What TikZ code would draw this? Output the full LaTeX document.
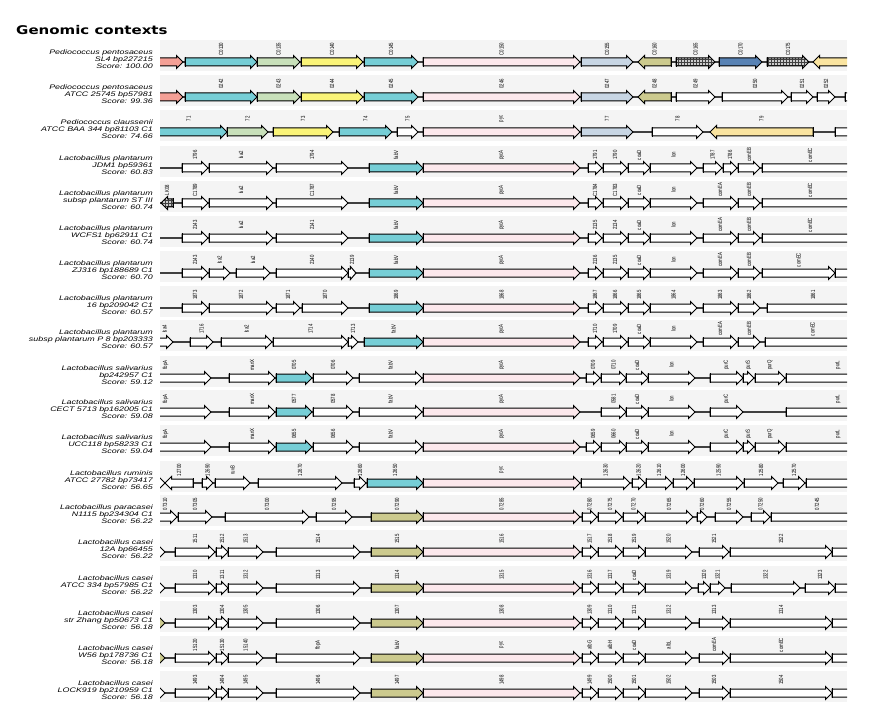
\documentclass[tikz,border=0pt]{standalone}
\usepackage{fontspec}
\usepackage{tikz}
\usetikzlibrary{patterns}

\newfontfamily\titlefont{DejaVu Sans}[FakeStretch=1.25]
\newfontfamily\spfont{Liberation Sans}[FakeStretch=1.35]
\newfontfamily\gfont{Liberation Sans}[FakeStretch=0.72]

\definecolor{genecyan}{RGB}{118,206,214}
\definecolor{genegreen}{RGB}{200,224,186}
\definecolor{geneyellow}{RGB}{250,244,120}
\definecolor{genepink}{RGB}{252,232,236}
\definecolor{genesteel}{RGB}{200,214,228}
\definecolor{genekhaki}{RGB}{204,202,142}
\definecolor{geneblue}{RGB}{88,130,180}
\definecolor{geneorange}{RGB}{250,228,160}
\definecolor{genesalmon}{RGB}{244,160,150}
\definecolor{bandgray}{RGB}{244,244,244}

\tikzset{
  gene/.style={draw=black, line width=1pt, line join=miter},
  gcyan/.style={fill=genecyan},
  ggreen/.style={fill=genegreen},
  gyellow/.style={fill=geneyellow},
  gpink/.style={fill=genepink},
  gsteel/.style={fill=genesteel},
  gkhaki/.style={fill=genekhaki},
  gblue/.style={fill=geneblue},
  gorange/.style={fill=geneorange},
  gsalmon/.style={fill=genesalmon},
  gwhite/.style={fill=white},
  ggrid/.style={preaction={fill=black!20}, pattern=grid, pattern color=black!75},
  band/.style={fill=bandgray, draw=none},
  backbone/.style={draw=black!75, line width=1.3pt},
  glabel/.style={rotate=90, inner sep=0pt, text=black,
    font=\gfont\fontsize{6}{6}\selectfont},
  species/.style={anchor=east, align=right, inner sep=0pt,
    font=\spfont\itshape\fontsize{6.6}{7}\selectfont}
}

% one genomic context: y, species, strain, score, genes (tail/head/style/label)
\newcommand{\ctxrow}[5]{%
  \fill[band] (160,#1-22) rectangle (847,#1+9);
  \node[species] (sp#1) at (153,#1-3) {#2\\#3\\Score: #4};
  \begin{scope}
    \clip (160,#1-22) rectangle (847,#1+10);
    \draw[backbone] (160,#1) -- (847,#1);
    \foreach \a/\b/\s/\t [count=\i] in {#5} {
      \pgfmathsetmacro\h{ifthenelse(\b>\a,1,-1)*min(6.5,0.7*abs(\b-\a))}
      \pgfmathsetmacro\c{\b-\h}
      \draw[gene,\s] (\a,#1-4) -- (\c,#1-4) -- (\c,#1-6.5) -- (\b,#1)
        -- (\c,#1+6.5) -- (\c,#1+4) -- (\a,#1+4) -- cycle;
      \draw[gene] (\a,#1-5) -- (\a,#1+5);
      \node[glabel] (g#1-\i) at ({(\a+\b)/2},#1-13) {\t};
    }
  \end{scope}
}

\begin{document}
\begin{tikzpicture}[x=1pt, y=-1pt]
  \useasboundingbox (0,0) rectangle (874,719);

  \node[anchor=west, inner sep=0pt, font=\titlefont\bfseries\fontsize{12}{12}\selectfont]
    (title) at (16,30) {Genomic contexts};

  \ctxrow{62}{Pediococcus pentosaceus}{SL4 bp227215}{100.00}{
    140/183/gsalmon/{}, 185/257/gcyan/C0130, 257/300/ggreen/C0135,
    301/363/gyellow/C0140, 364/418/gcyan/C0145, 423/580/gpink/C0150,
    581/633/gsteel/C0155, 671/638/gkhaki/C0160, 676/715/ggrid/C0165,
    719/762/gblue/C0170, 767/809/ggrid/C0175, 880/813/gorange/{}}

  \ctxrow{97}{Pediococcus pentosaceus}{ATCC 25745 bp57981}{99.36}{
    140/183/gsalmon/{}, 185/257/gcyan/0242, 257/300/ggreen/0243,
    301/363/gyellow/0244, 364/418/gcyan/0245, 423/580/gpink/0246,
    581/633/gsteel/0247, 671/638/gkhaki/0248, 676/715/gwhite/0249,
    722/788/gwhite/0250, 791/813/gwhite/0251, 817/835/gwhite/0252,
    845/890/gwhite/{}}

  \ctxrow{132}{Pediococcus claussenii}{ATCC BAA 344 bp81103 C1}{74.66}{
    150/227/gcyan/71, 227/268/ggreen/72, 273/333/gyellow/73,
    339/392/gcyan/74, 397/418/gwhite/75, 423/580/gpink/pyc,
    581/633/gsteel/77, 652/703/gwhite/78, 813/710/gorange/79,
    835/890/gwhite/{}}

  \ctxrow{168}{Lactobacillus plantarum}{JDM1 bp59361}{60.83}{
    182/208/gwhite/1796, 209/273/gwhite/lsa2, 276/348/gwhite/1794,
    369/423/gcyan/fabV, 423/580/gpink/pycA, 588/602/gwhite/1791,
    603/627/gwhite/1790, 628/650/gwhite/coaD, 650/697/gwhite/lon,
    703/722/gwhite/1787, 723/737/gwhite/1786, 738/760/gwhite/comEB,
    762/858/gwhite/comEC}

  \ctxrow{203}{Lactobacillus plantarum}{subsp plantarum ST III}{60.74}{
    173/161/ggrid/LK08, 182/208/gwhite/C1789, 209/273/gwhite/lsa2,
    276/348/gwhite/C1787, 369/423/gcyan/fabV, 423/580/gpink/pycA,
    588/602/gwhite/C1784, 603/627/gwhite/C1783, 628/650/gwhite/coaD,
    650/697/gwhite/lon, 703/737/gwhite/comEA, 738/760/gwhite/comEB,
    762/858/gwhite/comEC}

  \ctxrow{238}{Lactobacillus plantarum}{WCFS1 bp62911 C1}{60.74}{
    182/208/gwhite/2143, 209/273/gwhite/lsa2, 276/348/gwhite/2141,
    369/423/gcyan/fabV, 423/580/gpink/pycA, 588/602/gwhite/2135,
    603/627/gwhite/2134, 628/650/gwhite/coaD, 650/697/gwhite/lon,
    703/737/gwhite/comEA, 738/760/gwhite/comEB, 762/858/gwhite/comEC}

  \ctxrow{273}{Lactobacillus plantarum}{ZJ316 bp188689 C1}{60.70}{
    182/208/gwhite/2143, 209/230/gwhite/lsa2, 236/270/gwhite/lsa2,
    276/348/gwhite/2140, 348/356/gwhite/2139, 369/423/gcyan/fabV,
    423/580/gpink/pycA, 588/602/gwhite/2136, 603/627/gwhite/2135,
    628/650/gwhite/coaD, 650/697/gwhite/lon, 703/737/gwhite/comEA,
    738/760/gwhite/comEB, 762/835/gwhite/comEC, 835/890/gwhite/{}}

  \ctxrow{308}{Lactobacillus plantarum}{16 bp209042 C1}{60.57}{
    182/208/gwhite/1873, 209/273/gwhite/1872, 276/300/gwhite/1871,
    302/348/gwhite/1870, 369/423/gcyan/1869, 423/580/gpink/1868,
    588/602/gwhite/1867, 603/627/gwhite/1866, 628/650/gwhite/1865,
    650/697/gwhite/1864, 703/737/gwhite/1863, 738/760/gwhite/1862,
    767/859/gwhite/1861}

  \ctxrow{342}{Lactobacillus plantarum}{subsp plantarum P 8 bp203333}{60.57}{
    156/173/gwhite/lsa4, 190/213/gwhite/1716, 221/272/gwhite/lsa2,
    273/348/gwhite/1714, 348/358/gwhite/1713, 364/423/gcyan/fabV,
    423/580/gpink/pycA, 588/602/gwhite/1710, 603/627/gwhite/1709,
    628/650/gwhite/coaD, 650/697/gwhite/lon, 703/737/gwhite/comEA,
    738/760/gwhite/comEB, 765/860/gwhite/comEC}

  \ctxrow{378}{Lactobacillus salivarius}{bp242957 C1}{59.12}{
    120/211/gwhite/fbpA, 229/275/gwhite/manX, 276/312/gcyan/0705,
    313/353/gwhite/0706, 359/422/gwhite/fabV, 423/580/gpink/pycA,
    586/600/gwhite/0709, 601/626/gwhite/0710, 626/648/gwhite/coaD,
    648/695/gwhite/lon, 710/743/gwhite/purC, 743/754/gwhite/purS,
    755/785/gwhite/purQ, 786/890/gwhite/purL}

  \ctxrow{412}{Lactobacillus salivarius}{CECT 5713 bp162005 C1}{59.08}{
    120/211/gwhite/fbpA, 229/275/gwhite/manX, 276/312/gcyan/0577,
    313/353/gwhite/0578, 359/422/gwhite/fabV, 423/580/gpink/pycA,
    601/626/gwhite/0581, 626/648/gwhite/coaD, 648/695/gwhite/lon,
    710/743/gwhite/purC, 786/890/gwhite/purL}

  \ctxrow{447}{Lactobacillus salivarius}{UCC118 bp58233 C1}{59.04}{
    120/211/gwhite/fbpA, 229/275/gwhite/manX, 276/312/gcyan/0655,
    313/353/gwhite/0656, 359/422/gwhite/fabV, 423/580/gpink/pycA,
    586/600/gwhite/0659, 601/626/gwhite/0660, 626/648/gwhite/coaD,
    648/695/gwhite/lon, 710/743/gwhite/purC, 743/754/gwhite/purS,
    755/785/gwhite/purQ, 786/890/gwhite/purL}

  \ctxrow{483}{Lactobacillus ruminis}{ATCC 27782 bp73417}{56.65}{
    140/165/gwhite/{}, 193/165/gwhite/12700, 202/213/gwhite/12690,
    215/250/gwhite/ruvB, 258/342/gwhite/12670, 354/366/gwhite/12660,
    367/423/gcyan/12650, 423/580/gpink/pyc, 581/630/gwhite/12630,
    632/645/gwhite/12620, 646/672/gwhite/12610, 673/693/gwhite/12600,
    694/743/gwhite/12590, 744/778/gwhite/12580, 783/805/gwhite/12570,
    806/890/gwhite/{}}

  \ctxrow{517}{Lactobacillus paracasei}{N1115 bp234304 C1}{56.22}{
    153/177/gwhite/07310, 178/212/gwhite/07305, 225/309/gwhite/07300,
    316/352/gwhite/07295, 371/423/gkhaki/07290, 423/580/gpink/07285,
    582/597/gwhite/07280, 598/622/gwhite/07275, 623/644/gwhite/07270,
    645/693/gwhite/07265, 697/707/gwhite/07260, 715/743/gwhite/07255,
    751/770/gwhite/07250, 771/863/gwhite/07245}

  \ctxrow{552}{Lactobacillus casei}{12A bp66455}{56.22}{
    140/165/gwhite/{}, 175/215/gwhite/1511, 216/228/gwhite/1512,
    228/263/gwhite/1513, 276/360/gwhite/1514, 371/423/gkhaki/1515,
    423/580/gpink/1516, 582/597/gwhite/1517, 598/622/gwhite/1518,
    623/645/gwhite/1519, 645/692/gwhite/1520, 699/729/gwhite/1521,
    730/832/gwhite/1522, 832/890/gwhite/{}}

  \ctxrow{588}{Lactobacillus casei}{ATCC 334 bp57985 C1}{56.22}{
    140/165/gwhite/{}, 175/215/gwhite/1310, 216/228/gwhite/1311,
    228/263/gwhite/1312, 276/360/gwhite/1313, 371/423/gkhaki/1314,
    423/580/gpink/1315, 582/597/gwhite/1316, 598/622/gwhite/1317,
    623/645/gwhite/coaD, 645/692/gwhite/1319, 698/710/gwhite/1320,
    710/725/gwhite/1321, 731/800/gwhite/1322, 805/835/gwhite/1323,
    835/890/gwhite/{}}

  \ctxrow{623}{Lactobacillus casei}{str Zhang bp50673 C1}{56.18}{
    140/165/gkhaki/{}, 175/215/gwhite/1303, 216/228/gwhite/1304,
    228/263/gwhite/1305, 276/360/gwhite/1306, 371/423/gkhaki/1307,
    423/580/gpink/1308, 582/597/gwhite/1309, 598/622/gwhite/1310,
    623/645/gwhite/1311, 645/692/gwhite/1312, 699/729/gwhite/1313,
    730/832/gwhite/1314, 832/890/gwhite/{}}

  \ctxrow{658}{Lactobacillus casei}{W56 bp178736 C1}{56.18}{
    140/165/gkhaki/{}, 175/215/gwhite/15120, 216/228/gwhite/15130,
    228/263/gwhite/15140, 276/360/gwhite/fbpA, 371/423/gkhaki/fabV,
    423/580/gpink/pyc, 582/597/gwhite/albG, 598/622/gwhite/albH,
    623/645/gwhite/coaD, 645/692/gwhite/albL, 699/729/gwhite/comEA,
    730/832/gwhite/comEC, 832/890/gwhite/{}}

  \ctxrow{693}{Lactobacillus casei}{LOCK919 bp210959 C1}{56.18}{
    140/165/gwhite/{}, 175/215/gwhite/1493, 216/228/gwhite/1494,
    228/263/gwhite/1495, 276/360/gwhite/1496, 371/423/gkhaki/1497,
    423/580/gpink/1498, 582/597/gwhite/1499, 598/622/gwhite/1500,
    623/645/gwhite/1501, 645/692/gwhite/1502, 699/729/gwhite/1503,
    730/832/gwhite/1504, 832/890/gwhite/{}}
\end{tikzpicture}
\end{document}
